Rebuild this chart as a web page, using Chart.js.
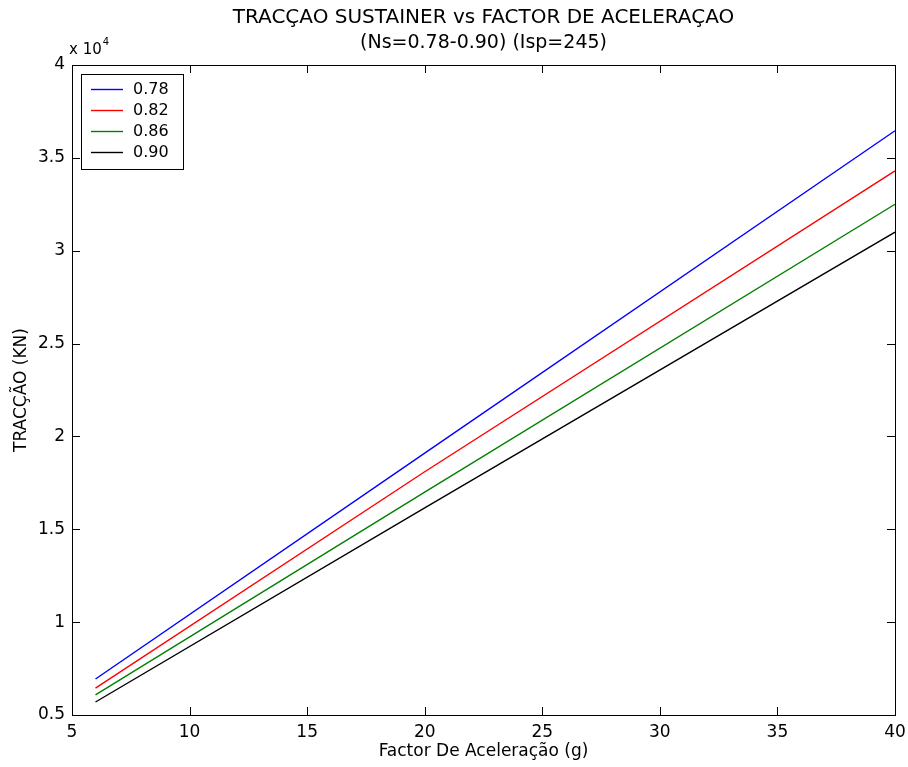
<!DOCTYPE html>
<html>
<head>
<meta charset="utf-8">
<script src="https://cdn.jsdelivr.net/npm/chart.js@4.4.0/dist/chart.umd.min.js"></script>
<style>
  html, body { margin: 0; padding: 0; background: #fff; }
  #wrap { width: 908px; height: 767px; }
</style>
</head>
<body>
<div id="wrap"><canvas id="grafico"></canvas></div>
<script>
// Factor de aceleração (g) onde as curvas foram lidas
const factorAcel = [6, 20, 40];

// Tracção (KN) para cada Ns
const tracc078 = [6940, 19100, 36460];
const tracc082 = [6450, 18100, 34300];
const tracc086 = [6080, 17000, 32500];
const tracc090 = [5700, 16150, 31000];

const rotulosNs = ['0.78', '0.82', '0.86', '0.90'];
const coresNs = ['#0000ff', '#ff0000', '#008000', '#000000'];

const ticksX = [5, 10, 15, 20, 25, 30, 35, 40];
const ticksY = [5000, 10000, 15000, 20000, 25000, 30000, 35000, 40000];

const fonte = "'DejaVu Sans', Verdana, sans-serif";

function pontos(ys) {
    return factorAcel.map((x, i) => ({ x: x, y: ys[i] }));
}

const series = [tracc078, tracc082, tracc086, tracc090].map((ys, i) => ({
    label: rotulosNs[i],
    data: pontos(ys),
    borderColor: coresNs[i],
    backgroundColor: coresNs[i],
    borderWidth: 1.4,
    pointRadius: 0,
    fill: false,
    tension: 0
}));

// caixa, ticks para dentro, legenda e "x 10^4"
const moldura = {
    id: 'moldura',
    afterDatasetsDraw(chart) {
        const ctx = chart.ctx;
        const a = chart.chartArea;
        const L = Math.round(a.left), R = Math.round(a.right);
        const T = Math.round(a.top), B = Math.round(a.bottom);
        const sx = chart.scales.x, sy = chart.scales.y;
        const tl = 8;
        ctx.save();
        ctx.strokeStyle = '#000';
        ctx.lineWidth = 1;
        ctx.strokeRect(L + 0.5, T + 0.5, R - L, B - T);
        ctx.beginPath();
        ticksX.forEach(v => {
            const px = Math.round(sx.getPixelForValue(v)) + 0.5;
            ctx.moveTo(px, B); ctx.lineTo(px, B - tl);
            ctx.moveTo(px, T); ctx.lineTo(px, T + tl);
        });
        ticksY.forEach(v => {
            const py = Math.round(sy.getPixelForValue(v)) + 0.5;
            ctx.moveTo(L, py); ctx.lineTo(L + tl, py);
            ctx.moveTo(R, py); ctx.lineTo(R - tl, py);
        });
        ctx.stroke();

        // multiplicador do eixo y
        ctx.fillStyle = '#000';
        ctx.textBaseline = 'alphabetic';
        ctx.textAlign = 'left';
        ctx.font = '15px ' + fonte;
        ctx.fillText('x 10', L - 3, T - 11);
        const w = ctx.measureText('x 10').width;
        ctx.font = '10px ' + fonte;
        ctx.fillText('4', L - 3 + w + 1, T - 20);

        // legenda
        const lx = L + 9, ly = T + 9, lw = 102, lh = 95;
        ctx.fillStyle = '#fff';
        ctx.fillRect(lx, ly, lw, lh);
        ctx.strokeStyle = '#000';
        ctx.strokeRect(lx + 0.5, ly + 0.5, lw, lh);
        ctx.font = '16px ' + fonte;
        ctx.textBaseline = 'middle';
        chart.data.datasets.forEach((ds, i) => {
            const y = ly + 15 + i * 21;
            ctx.strokeStyle = coresNs[i];
            ctx.lineWidth = 1.4;
            ctx.beginPath();
            ctx.moveTo(lx + 10, y + 0.5);
            ctx.lineTo(lx + 42, y + 0.5);
            ctx.stroke();
            ctx.fillStyle = '#000';
            ctx.fillText(ds.label, lx + 52, y + 1);
        });
        ctx.restore();
    }
};

new Chart(document.getElementById('grafico'), {
    type: 'line',
    data: { datasets: series },
    plugins: [moldura],
    options: {
        responsive: true,
        maintainAspectRatio: false,
        animation: false,
        layout: { padding: { left: 0, right: 13, top: 0, bottom: 0 } },
        plugins: {
            legend: { display: false },
            tooltip: { enabled: false },
            title: {
                display: true,
                fullSize: false,
                text: 'TRACÇAO SUSTAINER vs FACTOR DE ACELERAÇAO',
                color: '#000',
                font: { family: fonte, size: 20, weight: 'normal' },
                padding: { top: 6, bottom: 2 }
            },
            subtitle: {
                display: true,
                fullSize: false,
                text: '(Ns=0.78-0.90) (Isp=245)',
                color: '#000',
                font: { family: fonte, size: 19, weight: 'normal' },
                padding: { top: 0, bottom: 10.2 }
            }
        },
        scales: {
            x: {
                type: 'linear',
                min: 5,
                max: 40,
                afterFit(scale) {
                    scale.height = 52;
                    scale.paddingLeft = 0;
                    scale.paddingRight = 0;
                },
                afterBuildTicks(scale) { scale.ticks = ticksX.map(v => ({ value: v })); },
                grid: { display: false, drawTicks: false },
                border: { display: false },
                ticks: {
                    color: '#000',
                    font: { family: fonte, size: 17 },
                    padding: 7,
                    maxRotation: 0
                },
                title: {
                    display: true,
                    text: 'Factor De Aceleração (g)',
                    color: '#000',
                    font: { family: fonte, size: 17 },
                    padding: { top: 0, bottom: 5 }
                }
            },
            y: {
                type: 'linear',
                min: 5000,
                max: 40000,
                afterFit(scale) { scale.width = 72; },
                afterBuildTicks(scale) { scale.ticks = ticksY.map(v => ({ value: v })); },
                grid: { display: false, drawTicks: false },
                border: { display: false },
                ticks: {
                    color: '#000',
                    font: { family: fonte, size: 17 },
                    padding: 7,
                    callback: v => String(v / 10000)
                },
                title: {
                    display: true,
                    text: 'TRACÇÃO (KN)',
                    color: '#000',
                    font: { family: fonte, size: 17 },
                    padding: { top: 11, bottom: 0 }
                }
            }
        }
    }
});
</script>
</body>
</html>
